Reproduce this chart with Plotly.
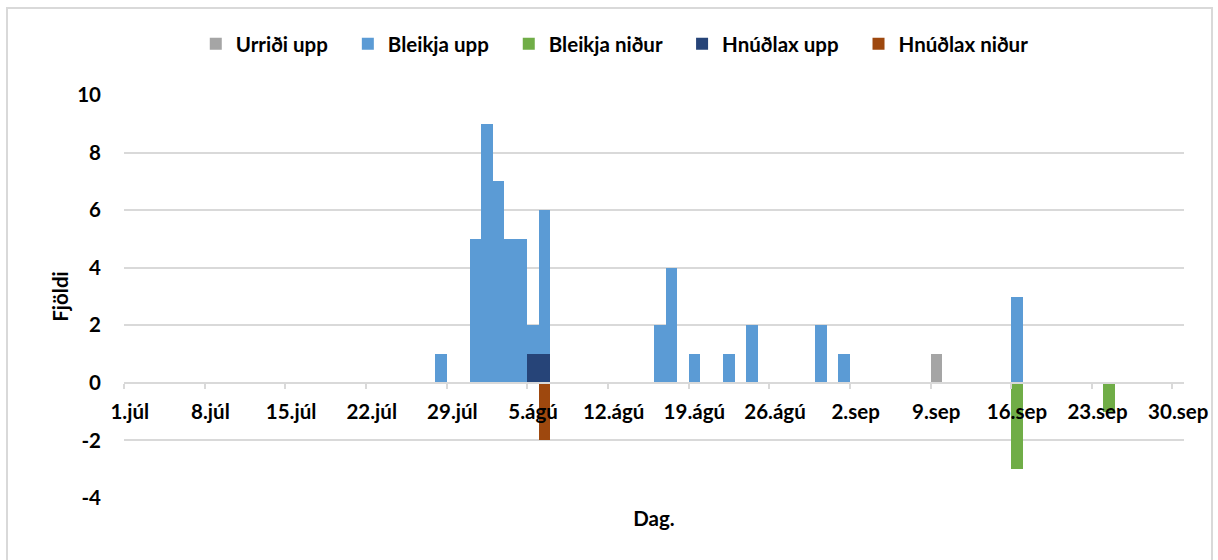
import plotly.graph_objects as go

# ---- data ----
urridi_upp_dates = ["2021-09-09"]
urridi_upp_vals = [1]

bleikja_upp_dates = ["2021-07-28", "2021-07-31", "2021-08-01", "2021-08-02", "2021-08-03",
                     "2021-08-04", "2021-08-05", "2021-08-06", "2021-08-16", "2021-08-17",
                     "2021-08-19", "2021-08-22", "2021-08-24", "2021-08-30", "2021-09-01",
                     "2021-09-16"]
bleikja_upp_vals = [1, 5, 9, 7, 5, 5, 2, 6, 2, 4, 1, 1, 2, 2, 1, 3]

bleikja_nidur_dates = ["2021-09-16", "2021-09-24"]
bleikja_nidur_vals = [-3, -1]

hnudlax_upp_dates = ["2021-08-05", "2021-08-06"]
hnudlax_upp_vals = [1, 1]

hnudlax_nidur_dates = ["2021-08-06"]
hnudlax_nidur_vals = [-2]

tick_dates = ["2021-07-01", "2021-07-08", "2021-07-15", "2021-07-22", "2021-07-29",
              "2021-08-05", "2021-08-12", "2021-08-19", "2021-08-26", "2021-09-02",
              "2021-09-09", "2021-09-16", "2021-09-23", "2021-09-30"]
tick_labels = ["1.júl", "8.júl", "15.júl", "22.júl", "29.júl", "5.ágú", "12.ágú",
               "19.ágú", "26.ágú", "2.sep", "9.sep", "16.sep", "23.sep", "30.sep"]

y_ticks = [-4, -2, 0, 2, 4, 6, 8, 10]
y_tick_labels = ["-4", "-2", "0", "2", "4", "6", "8", "10"]

DAY_MS = 86400000
FONT = "Lato"
FS = 20.5
GRID = "#d9d9d9"
PAD = "\u00a0\u00a0\u00a0"   # extra spacing after each legend entry

series = [
    ("Urriði upp", urridi_upp_dates, urridi_upp_vals, "#A5A5A5"),
    ("Bleikja upp", bleikja_upp_dates, bleikja_upp_vals, "#5B9BD5"),
    ("Bleikja niður", bleikja_nidur_dates, bleikja_nidur_vals, "#70AD47"),
    ("Hnúðlax upp", hnudlax_upp_dates, hnudlax_upp_vals, "#264478"),
    ("Hnúðlax niður", hnudlax_nidur_dates, hnudlax_nidur_vals, "#9E480E"),
]

fig = go.Figure()
for i, (name, d, v, c) in enumerate(series):
    fig.add_trace(go.Bar(
        x=d, y=v, name=name + (PAD if i < len(series) - 1 else ""),
        xperiod=DAY_MS, xperiodalignment="middle",
        width=DAY_MS,
        marker=dict(color=c, line=dict(width=0)),
    ))

# plot-area geometry (pixels)
L, R, T, B = 124, 34, 95, 62
W, H = 1218, 560
pw, ph = W - L - R, H - T - B
ymin, ymax = -4, 10
zero_pos = (0 - ymin) / (ymax - ymin)
bold = dict(family=FONT, size=FS, color="#000000", weight="bold")

fig.update_layout(
    width=W, height=H,
    margin=dict(l=L, r=R, t=T, b=B, autoexpand=False),
    barmode="overlay",
    bargap=0,
    plot_bgcolor="white",
    paper_bgcolor="white",
    font=bold,
    showlegend=True,
    legend=dict(
        orientation="h", x=0.463, xanchor="center",
        y=(H - B - 44) / ph, yanchor="middle",
        font=bold,
        traceorder="normal",
        itemwidth=30,
    ),
    xaxis=dict(
        type="date",
        range=["2021-07-01", "2021-10-01"],
        anchor="free", position=zero_pos,
        tickmode="array",
        tickvals=[t + " 12:00" for t in tick_dates],
        ticktext=tick_labels,
        ticks="", ticklabelstandoff=11,
        showgrid=False, showline=True, linecolor=GRID, linewidth=1.5,
        zeroline=False,
        minor=dict(tickmode="array", tickvals=tick_dates, ticks="outside",
                   ticklen=5, tickcolor=GRID, tickwidth=1.5, showgrid=False),
        tickfont=bold,
        title=dict(text="Dag.", standoff=88, font=bold),
        automargin=False,
        fixedrange=True,
    ),
    yaxis=dict(
        range=[ymin, ymax],
        tickmode="array", tickvals=y_ticks, ticktext=y_tick_labels,
        showgrid=True, gridcolor=GRID, gridwidth=1.5,
        zeroline=False, showline=False,
        ticks="", ticklabelstandoff=22,
        tickfont=bold,
        title=dict(text="Fjöldi", standoff=3, font=bold),
        automargin=False,
        fixedrange=True,
    ),
)

# chart-area border (decoration)
fig.add_shape(type="rect", xref="paper", yref="paper",
              x0=(7 - L) / pw, x1=(1212 - L) / pw,
              y0=-0.3, y1=(H - B - 8) / ph,
              line=dict(color=GRID, width=2), fillcolor="rgba(0,0,0,0)", layer="below")

fig.write_html("out.html")
